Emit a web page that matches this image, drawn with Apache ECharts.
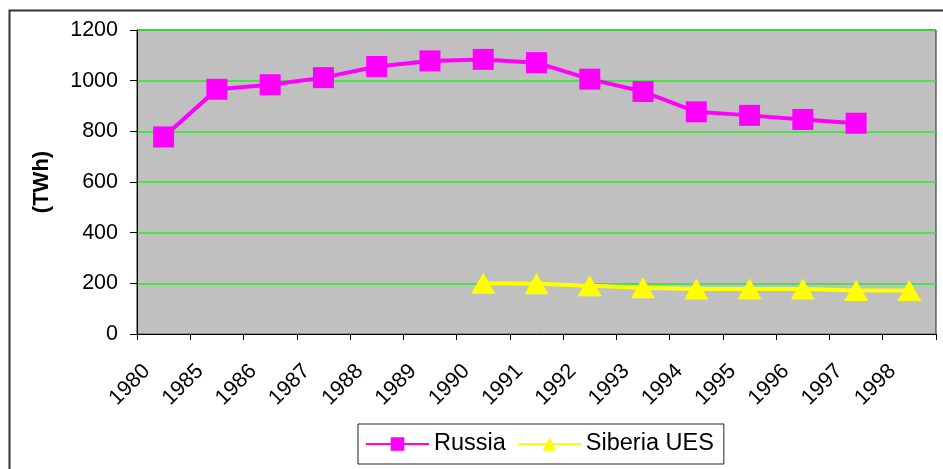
<!DOCTYPE html>
<html>
<head>
<meta charset="utf-8">
<script src="https://cdn.jsdelivr.net/npm/echarts@6/dist/echarts.min.js"></script>
<style>
  html, body { margin: 0; padding: 0; background: #fff; }
  #main { width: 943px; height: 469px; }
</style>
</head>
<body>
<div id="main"></div>
<script>
// 数据
const years = ['1980', '1985', '1986', '1987', '1988', '1989', '1990', '1991', '1992', '1993', '1994', '1995', '1996', '1997', '1998']
const russia = [778, 966, 984, 1012, 1056, 1078, 1084, 1071, 1006, 957, 877, 863, 847, 832, null]
const siberia = [null, null, null, null, null, null, 200, 198, 190, 183, 178, 178, 178, 172, 172]
const yTicks = { min: 0, max: 1200, interval: 200 }

const chart = echarts.init(document.getElementById('main'))
const font = 'Liberation Sans, Arial, sans-serif'

const option = {
  animation: false,
  // 外框
  graphic: [
    {
      type: 'rect',
      shape: { x: 9.5, y: 10.5, width: 960, height: 480 },
      style: { fill: 'none', stroke: '#333', lineWidth: 2 },
      silent: true
    }
  ],
  grid: {
    left: 137,
    top: 30,
    right: 7,
    bottom: 135,
    show: true,
    backgroundColor: '#c0c0c0',
    borderColor: '#222',
    borderWidth: 1
  },
  legend: {
    bottom: 5,
    left: 358,
    padding: [8, 10, 8, 7],
    itemGap: 11,
    itemWidth: 63,
    itemHeight: 17,
    borderColor: '#222',
    borderWidth: 1,
    textStyle: { fontFamily: font, fontSize: 23.5, color: '#000' },
    data: ['Russia', 'Siberia UES']
  },
  xAxis: {
    type: 'category',
    data: years,
    boundaryGap: true,
    axisLine: { lineStyle: { color: '#000', width: 1 } },
    axisTick: { show: true, alignWithLabel: false, length: 6, lineStyle: { color: '#000' } },
    axisLabel: {
      rotate: 45,
      interval: 0,
      margin: 17,
      padding: [0, 24, 0, 0], // 把斜标签往左下挪
      color: '#000',
      fontFamily: font,
      fontSize: 21.5
    },
    splitLine: { show: false }
  },
  yAxis: {
    type: 'value',
    min: yTicks.min,
    max: yTicks.max,
    interval: yTicks.interval,
    name: '(TWh)',
    nameLocation: 'middle',
    nameGap: 84,
    nameTextStyle: { fontFamily: font, fontSize: 22, fontWeight: 'bold', color: '#000' },
    axisLine: { show: true, lineStyle: { color: '#000' } },
    axisTick: { show: true, length: 7, lineStyle: { color: '#000' } },
    axisLabel: {
      color: '#000',
      fontFamily: font,
      fontSize: 21.5,
      margin: 19,
      formatter: (v) => String(v)
    },
    splitLine: { lineStyle: { color: '#22ee22', width: 1.5 } }
  },
  series: [
    {
      name: 'Russia',
      type: 'line',
      data: russia,
      color: '#ff00ff',
      symbol: 'rect',
      symbolSize: 21,
      lineStyle: { width: 4, color: '#ff00ff' },
      itemStyle: { color: '#ff00ff' }
    },
    {
      name: 'Siberia UES',
      type: 'line',
      data: siberia,
      color: '#ffff00',
      symbol: 'triangle',
      symbolSize: [24, 21],
      lineStyle: { width: 4, color: '#ffff00' },
      itemStyle: { color: '#ffff00' }
    }
  ]
}

chart.setOption(option)
</script>
</body>
</html>
